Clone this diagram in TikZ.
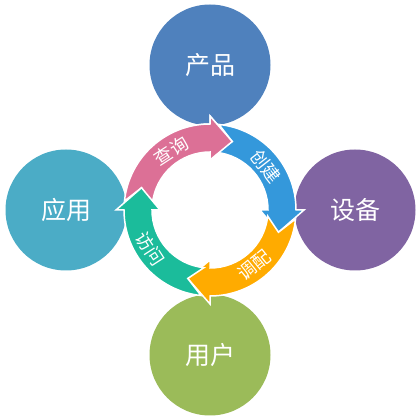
\documentclass[tikz,border=0pt]{standalone}
\usepackage{fontspec}
\newfontfamily\cjk{Noto Sans CJK SC}
\usetikzlibrary{calc}
\definecolor{cTop}{HTML}{4F81BD}
\definecolor{cRight}{HTML}{8064A2}
\definecolor{cBottom}{HTML}{9BBB59}
\definecolor{cLeft}{HTML}{4BACC6}
\definecolor{aPink}{HTML}{DC7096}
\definecolor{aBlue}{HTML}{3498DB}
\definecolor{aOrange}{HTML}{FFAB00}
\definecolor{aTeal}{HTML}{1BBC9B}
\tikzset{
  bigcircle/.style={circle, minimum size=121pt, inner sep=0pt, text=white, font=\cjk\fontsize{25}{28}\selectfont},
  ringlabel/.style={text=white, inner sep=0pt, font=\cjk\fontsize{18}{20}\selectfont},
  ringarrow/.style={draw=white, line width=1.5pt, line join=miter}
}
\newcommand{\ringarrowpath}[2]{%
  \path[ringarrow, fill=#2]
    ($(c)+({#1+84}:86pt)$) arc[start angle={#1+84}, end angle=#1, radius=86pt]
    -- ($(c)+(#1:94pt)$) -- ($(c)+({#1-18}:72pt)$) -- ($(c)+(#1:50pt)$)
    -- ($(c)+(#1:58pt)$) arc[start angle=#1, end angle={#1+84}, radius=58pt]
    -- ($(c)+({#1+72}:72pt)$) -- cycle;}
\begin{document}
\begin{tikzpicture}[x=1pt,y=1pt]
\useasboundingbox (0,0) rectangle (420,420);
\coordinate (c) at (210,210);
\node[bigcircle, fill=cTop] (top) at (210,355) {产品};
\node[bigcircle, fill=cRight] (right) at (355,210) {设备};
\node[bigcircle, fill=cBottom] (bottom) at (210,65) {用户};
\node[bigcircle, fill=cLeft] (left) at (66,210) {应用};
\ringarrowpath{90}{aPink}
\ringarrowpath{0}{aBlue}
\ringarrowpath{-90}{aOrange}
\ringarrowpath{180}{aTeal}
\begin{scope}
  \clip (c) -- ($(c)+(100:130pt)$) -- ($(c)+(55:130pt)$) -- cycle;
  \ringarrowpath{90}{aPink}
\end{scope}
\node[ringlabel, rotate=33] (l1) at ($(c)+(123:71pt)$) {查询};
\node[ringlabel, rotate=-52] (l2) at ($(c)+(38:71pt)$) {创建};
\node[ringlabel, rotate=39] (l3) at ($(c)+(-51:71pt)$) {调配};
\node[ringlabel, rotate=-57] (l4) at ($(c)+(213:71pt)$) {访问};
\end{tikzpicture}
\end{document}
